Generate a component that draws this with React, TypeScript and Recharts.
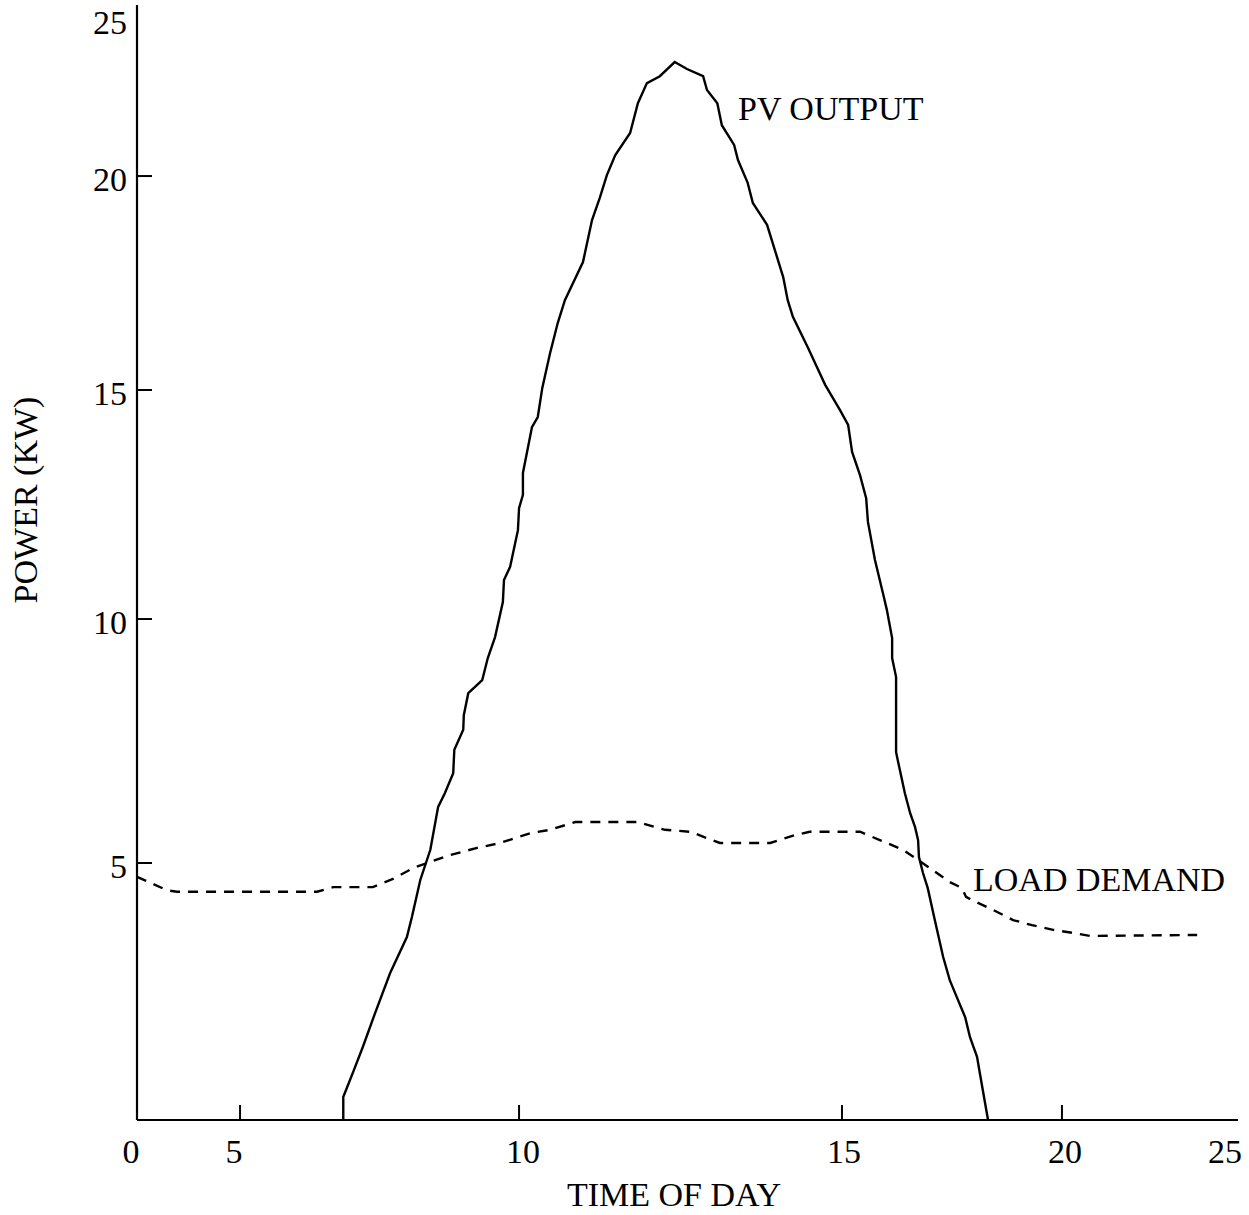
import { LineChart, Line, XAxis, YAxis } from 'recharts';

// PV output (hour of day, kW)
const pvHours = [
  6.85, 6.85, 6.88, 7.04, 7.2, 7.42, 7.69, 7.99, 8.08, 8.23, 8.41, 8.55, 8.67, 8.82, 8.84, 9.0,
  9.01, 9.09, 9.34, 9.44, 9.57, 9.71, 9.73, 9.84, 9.98, 10.0, 10.06, 10.06, 10.2, 10.29, 10.36,
  10.48, 10.6, 10.71, 10.99, 11.13, 11.25, 11.36, 11.49, 11.72, 11.84, 11.98, 12.18, 12.41, 12.6,
  12.85, 12.91, 13.07, 13.14, 13.33, 13.39, 13.54, 13.62, 13.84, 14.09, 14.16, 14.24, 14.47, 14.74,
  14.97, 15.14, 15.23, 15.41, 15.55, 15.59, 15.75, 15.93, 16.02, 16.14, 16.14, 16.23, 16.23, 16.3,
  16.43, 16.55, 16.66, 16.73, 16.75, 16.84, 16.95, 17.11, 17.3, 17.45, 17.61, 17.8, 17.91, 18.07,
  18.14, 18.32,
];
const pvPower = [
  0, 0.45, 0.53, 0.97, 1.42, 2.08, 2.86, 3.56, 3.95, 4.67, 5.27, 6.15, 6.43, 6.84, 7.32, 7.73,
  8.03, 8.48, 8.75, 9.2, 9.63, 10.37, 10.85, 11.14, 11.94, 12.42, 12.71, 13.19, 14.19, 14.41, 15.05,
  15.86, 16.57, 17.1, 17.99, 18.97, 19.49, 20.03, 20.67, 21.37, 22.32, 22.96, 23.18, 23.63, 23.41,
  23.18, 22.74, 22.32, 21.62, 20.99, 20.51, 19.84, 19.37, 18.86, 17.64, 17.1, 16.71, 16.0, 15.12,
  14.56, 14.24, 13.65, 13.14, 12.64, 12.12, 11.29, 10.57, 10.2, 9.61, 9.2, 8.81, 7.27, 6.97,
  6.43, 6.02, 5.74, 5.47, 5.12, 4.81, 4.51, 3.89, 3.17, 2.72, 2.39, 2.0, 1.61, 1.23,
  0.88, 0,
];

// load demand
const loadHours = [
  0, 1.46, 1.94, 6.38, 6.67, 7.38, 7.74, 8.1, 8.35, 8.76, 9.25, 9.66, 10.17, 10.48, 10.87, 11.83,
  12.26, 12.65, 13.11, 13.89, 14.27, 14.5, 15.41, 15.86, 16.39, 16.73, 17.0, 17.45, 17.73, 17.82,
  17.95, 18.43, 18.89, 19.32, 19.8, 20.31, 20.8, 23.84,
];
const loadPower = [
  4.73, 4.47, 4.44, 4.44, 4.53, 4.53, 4.69, 4.9, 5.0, 5.16, 5.31, 5.41, 5.61, 5.68, 5.84, 5.84,
  5.68, 5.64, 5.41, 5.41, 5.57, 5.64, 5.64, 5.47, 5.27, 5.06, 4.9, 4.63, 4.51, 4.34,
  4.28, 4.09, 3.89, 3.79, 3.7, 3.64, 3.58, 3.6,
];

const xTicks = [0, 5, 10, 15, 20, 25];
const yTicks = [5, 10, 15, 20, 25];

const pvData = pvHours.map((h, i) => ({ h, kw: pvPower[i] }));
const loadData = loadHours.map((h, i) => ({ h, kw: loadPower[i] }));

// the printed axes are not evenly spaced, so each axis gets a piecewise-linear scale
// (value knots -> fraction of the axis length)
const X_KNOTS = [0, 5, 10, 15, 20, 25];
const X_FRAC = [0, 0.0936, 0.347, 0.6403, 0.8401, 1];
const Y_KNOTS = [0, 5, 10, 15, 20, 25, 25.45];
const Y_FRAC = [0, 0.2305, 0.4493, 0.6547, 0.8466, 0.9874, 1];

function piecewiseScale(knots: number[], frac: number[]) {
  let dom: any[] = [knots[0], knots[knots.length - 1]];
  let rng: number[] = [0, 1];
  const s: any = (v: number) => {
    let i = 1;
    while (i < knots.length - 1 && v > knots[i]) i++;
    const t = (v - knots[i - 1]) / (knots[i] - knots[i - 1]);
    const p = frac[i - 1] + t * (frac[i] - frac[i - 1]);
    return rng[0] + p * (rng[1] - rng[0]);
  };
  s.domain = (d?: any[]) => {
    if (d === undefined) return dom.slice();
    dom = [...d];
    return s;
  };
  s.range = (r?: number[]) => {
    if (r === undefined) return rng.slice();
    rng = [...r];
    return s;
  };
  s.copy = () => piecewiseScale(knots, frac).domain(dom).range(rng);
  s.ticks = () => knots.slice();
  s.tickFormat = () => (d: any) => String(d);
  s.nice = () => s;
  s.clamp = () => s;
  s.invert = (px: number) => {
    const p = (px - rng[0]) / (rng[1] - rng[0]);
    let i = 1;
    while (i < frac.length - 1 && p > frac[i]) i++;
    const t = (p - frac[i - 1]) / (frac[i] - frac[i - 1]);
    return knots[i - 1] + t * (knots[i] - knots[i - 1]);
  };
  return s;
}

const xScale = piecewiseScale(X_KNOTS, X_FRAC);
const yScale = piecewiseScale(Y_KNOTS, Y_FRAC);

const FONT = '"Liberation Serif", "Times New Roman", serif';
const FS = 34;

// small nudges so labels sit where they are printed
const xLabelShift: Record<number, number> = { 0: -6, 5: -6, 10: 4, 15: 2, 20: 3, 25: -13 };

function XTick(props: any) {
  const { x, y, payload } = props;
  const v = payload.value;
  return (
    <g>
      {v > 0 && v < 25 && (
        <line x1={x} y1={y} x2={x} y2={y - 15} stroke="#000" strokeWidth={2} />
      )}
      <text
        x={x + (xLabelShift[v] ?? 0)}
        y={y + 43}
        textAnchor="middle"
        fontFamily={FONT}
        fontSize={FS}
        fill="#000"
      >
        {v}
      </text>
    </g>
  );
}

function YTick(props: any) {
  const { x, y, payload } = props;
  const v = payload.value;
  return (
    <g>
      {v < 25 && <line x1={x} y1={y} x2={x + 15} y2={y} stroke="#000" strokeWidth={2} />}
      <text x={x - 10} y={y + 15} textAnchor="end" fontFamily={FONT} fontSize={FS} fill="#000">
        {v}
      </text>
    </g>
  );
}

const axisStroke = { stroke: '#000', strokeWidth: 2.2 };

export default function App() {
  return (
    <div style={{ position: 'absolute', left: 0, top: 0, background: '#fff' }}>
      <LineChart width={1249} height={1215} margin={{ top: 5, right: 11, left: 37, bottom: 0 }}>
        <XAxis
          dataKey="h"
          type="number"
          domain={[0, 25]}
          scale={xScale}
          ticks={xTicks}
          interval={0}
          tick={<XTick />}
          tickLine={false}
          tickSize={0}
          tickMargin={0}
          axisLine={axisStroke}
          height={95}
        />
        <XAxis
          xAxisId="top"
          orientation="top"
          type="number"
          domain={[0, 25]}
          tick={false}
          tickLine={false}
          axisLine={axisStroke}
          height={0}
        />
        <YAxis
          type="number"
          domain={[0, 25.45]}
          scale={yScale}
          ticks={yTicks}
          interval={0}
          tick={<YTick />}
          tickLine={false}
          tickSize={0}
          tickMargin={0}
          axisLine={axisStroke}
          width={100}
        />
        <YAxis
          yAxisId="right"
          orientation="right"
          type="number"
          domain={[0, 25]}
          tick={false}
          tickLine={false}
          axisLine={axisStroke}
          width={0}
        />
        <Line
          data={pvData}
          dataKey="kw"
          type="linear"
          stroke="#000"
          strokeWidth={2.4}
          dot={false}
          activeDot={false}
          isAnimationActive={false}
        />
        <Line
          data={loadData}
          dataKey="kw"
          type="linear"
          stroke="#000"
          strokeWidth={2.4}
          strokeDasharray="10 8"
          dot={false}
          activeDot={false}
          isAnimationActive={false}
        />
        <text x={738} y={120} fontFamily={FONT} fontSize={FS} fill="#000">
          PV OUTPUT
        </text>
        <text x={973} y={891} fontFamily={FONT} fontSize={FS} fill="#000">
          LOAD DEMAND
        </text>
        <text x={674} y={1206} textAnchor="middle" fontFamily={FONT} fontSize={FS} fill="#000">
          TIME OF DAY
        </text>
        <text
          x={37}
          y={500}
          textAnchor="middle"
          transform="rotate(-90 37 500)"
          fontFamily={FONT}
          fontSize={FS}
          fill="#000"
        >
          POWER (KW)
        </text>
      </LineChart>
    </div>
  );
}
